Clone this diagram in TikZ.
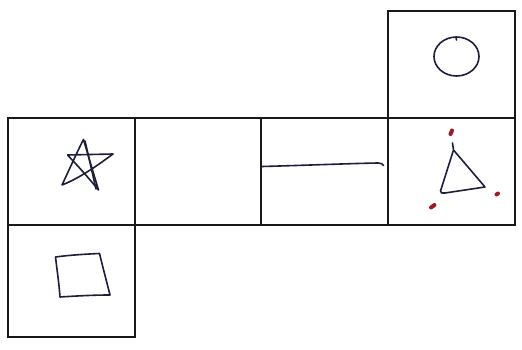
\documentclass[tikz,border=0pt]{standalone}
\begin{document}
\begin{tikzpicture}[x=1pt,y=-1pt,
  gridline/.style={draw=black!90,line width=2pt,line join=miter},
  pen/.style={draw={rgb,255:red,30;green,30;blue,60},line width=1.6pt,line cap=round,line join=round},
  reddot/.style={draw={rgb,255:red,160;green,25;blue,30},line width=4pt,line cap=round}]
\useasboundingbox (0,0) rectangle (522,350);
\fill[white] (0,0) rectangle (522,350);
% cells of the net
\draw[gridline] (388,11.5) rectangle (515,118);
\draw[gridline] (7.5,118) rectangle (134.5,225);
\draw[gridline] (134.5,118) rectangle (261,225);
\draw[gridline] (261,118) rectangle (388,225);
\draw[gridline] (388,118) rectangle (515,225);
\draw[gridline] (7.5,225) rectangle (134.5,337);
% circle
\draw[pen] (456.5,56.5) ellipse (22.5 and 19.5);
\draw[pen] (456,37) -- (456.5,40);
% star
\draw[pen] (62,185) .. controls (70,168) and (78,150) .. (83.5,139.5)
  .. controls (88,155) and (94,175) .. (98.5,190)
  .. controls (92,182) and (80,168) .. (67.5,155)
  -- (113,154)
  .. controls (98,165) and (80,178) .. (62,185);
\draw[pen] (85,141) .. controls (89,158) and (93,176) .. (96,189);
% square
\draw[pen] (55.5,257) .. controls (70,255) and (88,254) .. (99.5,253.5)
  .. controls (103,268) and (107,283) .. (110,295)
  .. controls (93,295) and (76,296) .. (60,297)
  .. controls (59,283) and (57,270) .. (55.5,257) -- cycle;
% line
\draw[pen] (262,166.5) .. controls (300,165.5) and (350,163.5) .. (378,163)
  .. controls (381,163) and (383,164) .. (383.5,165.5);
% triangle
\draw[pen] (452.5,143) -- (453.5,150)
  -- (485,187) -- (445,193)
  .. controls (442,193.5) and (440.5,193) .. (440.5,191)
  -- (453.5,150);
% red dots
\draw[reddot] (450.5,134) -- (452,130.5);
\draw[reddot] (496.5,194.5) -- (498,193.5);
\draw[reddot] (431,207.5) -- (434.5,205);
\end{tikzpicture}
\end{document}
